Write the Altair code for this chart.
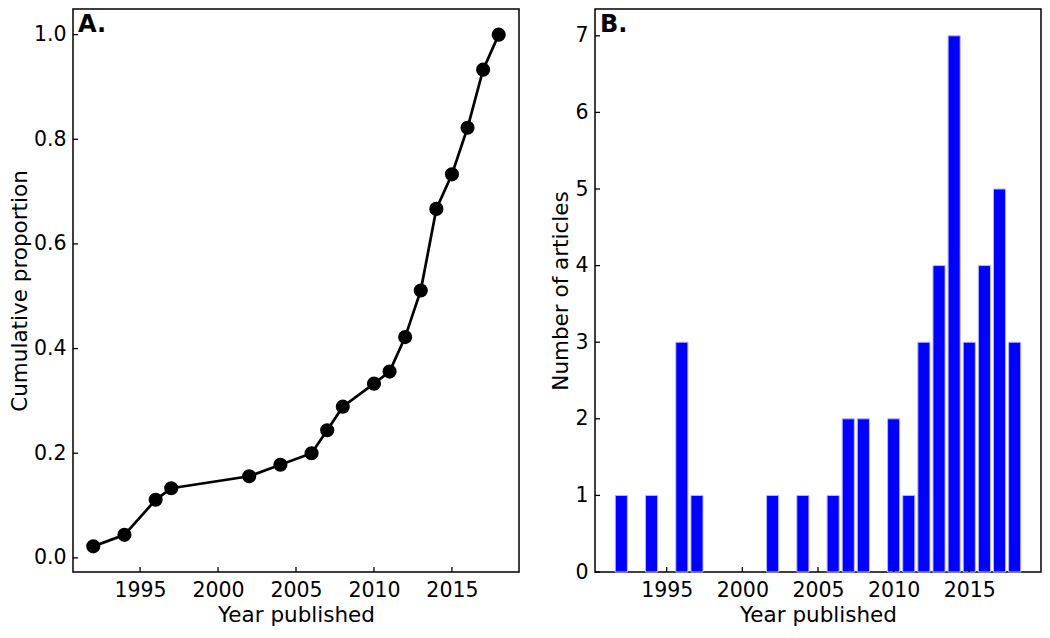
import altair as alt
import pandas as pd

# ---- data ----
years = [1992, 1994, 1996, 1997, 2002, 2004, 2006, 2007, 2008, 2010,
         2011, 2012, 2013, 2014, 2015, 2016, 2017, 2018]
counts = [1, 1, 3, 1, 1, 1, 1, 2, 2, 2, 1, 3, 4, 7, 3, 4, 5, 3]
cum_prop = [0.022, 0.044, 0.111, 0.133, 0.156, 0.178, 0.200, 0.244, 0.289,
            0.333, 0.356, 0.422, 0.511, 0.667, 0.733, 0.822, 0.933, 1.000]

x_ticks = [1995, 2000, 2005, 2010, 2015]
y_ticks_a = [0.0, 0.2, 0.4, 0.6, 0.8, 1.0]
y_ticks_b = [0, 1, 2, 3, 4, 5, 6, 7]

FONT = "DejaVu Sans"
H = 563
W1 = 446
W2 = 446
TICK = 5

df_a = pd.DataFrame({"year": years, "cum": cum_prop})
df_b = pd.DataFrame({"year": years, "n": counts})
df_xt = pd.DataFrame({"v": x_ticks})
df_yta = pd.DataFrame({"v": y_ticks_a})
df_ytb = pd.DataFrame({"v": y_ticks_b})

xs_a = alt.Scale(domain=[1990.7, 2019.3], nice=False, zero=False)
ys_a = alt.Scale(domain=[-0.027, 1.049], nice=False, zero=False)
xs_b = alt.Scale(domain=[1990.26, 2019.74], nice=False, zero=False)
ys_b = alt.Scale(domain=[0, 7.35], nice=False, zero=False)

x_axis = alt.Axis(values=x_ticks, format="d", title="Year published")
y_axis_a = alt.Axis(values=y_ticks_a, format=".1f", title="Cumulative proportion")
y_axis_b = alt.Axis(values=y_ticks_b, format="d", title="Number of articles")

# ---------- Panel A ----------
line_a = alt.Chart(df_a).mark_line(color="black", strokeWidth=2.7).encode(
    x=alt.X("year:Q", scale=xs_a, axis=x_axis),
    y=alt.Y("cum:Q", scale=ys_a, axis=y_axis_a),
)
pts_a = alt.Chart(df_a).mark_point(filled=True, color="black", size=200, opacity=1).encode(
    x=alt.X("year:Q", scale=xs_a, axis=x_axis),
    y=alt.Y("cum:Q", scale=ys_a, axis=y_axis_a),
)
xt_a = alt.Chart(df_xt).mark_rule(color="black", strokeWidth=1.3).encode(
    x=alt.X("v:Q", scale=xs_a, axis=x_axis),
    y=alt.value(H), y2=alt.value(H - TICK),
)
yt_a = alt.Chart(df_yta).mark_rule(color="black", strokeWidth=1.3).encode(
    y=alt.Y("v:Q", scale=ys_a, axis=y_axis_a),
    x=alt.value(0), x2=alt.value(TICK),
)
lab_a = alt.Chart(pd.DataFrame({"t": ["A."]})).mark_text(
    font=FONT, fontSize=24, fontWeight="bold", align="left", baseline="top", color="black"
).encode(x=alt.value(5), y=alt.value(4), text="t:N")

panel_a = alt.layer(line_a, pts_a, xt_a, yt_a, lab_a).properties(width=W1, height=H)

# ---------- Panel B ----------
bars_b = alt.Chart(df_b).transform_calculate(
    x0="datum.year - 0.4", x1="datum.year + 0.4"
).mark_bar(color="#0000ff", stroke="#b8b8ff", strokeWidth=1).encode(
    x=alt.X("x0:Q", scale=xs_b, axis=x_axis),
    x2="x1:Q",
    y=alt.Y("n:Q", scale=ys_b, axis=y_axis_b),
    y2=alt.datum(0),
)
xt_b = alt.Chart(df_xt).mark_rule(color="black", strokeWidth=1.3).encode(
    x=alt.X("v:Q", scale=xs_b, axis=x_axis),
    y=alt.value(H), y2=alt.value(H - TICK),
)
yt_b = alt.Chart(df_ytb).mark_rule(color="black", strokeWidth=1.3).encode(
    y=alt.Y("v:Q", scale=ys_b, axis=y_axis_b),
    x=alt.value(0), x2=alt.value(TICK),
)
lab_b = alt.Chart(pd.DataFrame({"t": ["B."]})).mark_text(
    font=FONT, fontSize=24, fontWeight="bold", align="left", baseline="top", color="black"
).encode(x=alt.value(5), y=alt.value(4), text="t:N")

panel_b = alt.layer(bars_b, xt_b, yt_b, lab_b).properties(width=W2, height=H)

chart = alt.hconcat(panel_a, panel_b, spacing=30).properties(
    padding={"left": 0, "top": 0, "right": 0, "bottom": 0},
    background="white",
).configure_view(
    stroke="black", strokeWidth=1.5
).configure_axis(
    domain=False, grid=False, ticks=False,
    labelFont=FONT, titleFont=FONT,
    labelFontSize=20.5, titleFontSize=21.5,
    titleFontWeight="normal",
    labelColor="black", titleColor="black",
    labelPadding=7, titlePadding=2,
).configure_axisX(
    labelPadding=8, titlePadding=4,
)

chart.save("out.html", embed_options={"renderer": "svg", "actions": False})
